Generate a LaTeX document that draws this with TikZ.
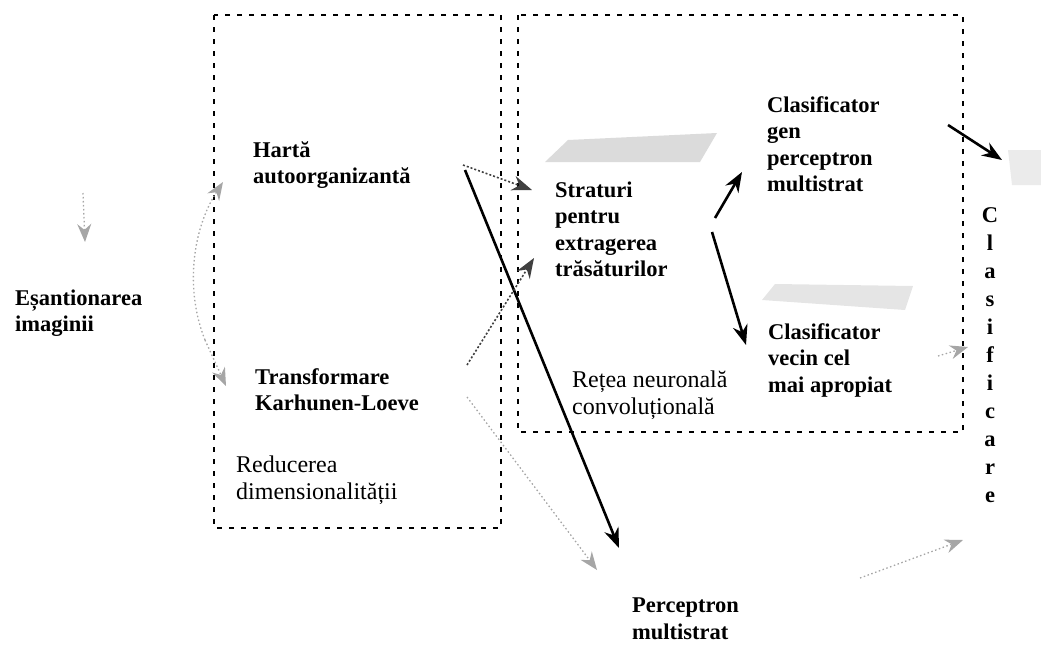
\documentclass[tikz,border=0pt]{standalone}
\usepackage{fontspec}
\setmainfont{Liberation Serif}
\usetikzlibrary{arrows.meta}
\begin{document}
\begin{tikzpicture}[x=1pt,y=-1pt,
  lbl/.style={anchor=base west, align=left, inner sep=0pt,
    font=\bfseries\fontsize{22.5}{26.5}\selectfont},
  grp/.style={anchor=base west, align=left, inner sep=0pt,
    font=\fontsize{24}{27}\selectfont},
  groupbox/.style={draw, line width=1.8pt, dash pattern=on 5pt off 7pt},
  strong/.style={draw, line width=2.6pt, -{Stealth[length=20pt,width=15pt]}},
  medium/.style={draw=black!75, line width=1.6pt, dash pattern=on 2pt off 2pt,
    -{Stealth[length=20pt,width=15pt]}},
  faint/.style={draw=black!35, line width=1.3pt, dash pattern=on 1.5pt off 2.5pt,
    -{Stealth[length=18pt,width=14pt]}},
  smudge/.style={fill=black!14, draw=none},
]
\useasboundingbox (0,0) rectangle (1041,645);

% grey smudges behind the upper labels
\fill[smudge] (545,162) -- (568,140) -- (717,133) -- (700,162) -- cycle;
\fill[smudge, fill=black!10] (762,300) -- (775,284) -- (913,286) -- (905,310) -- cycle;
\fill[smudge, fill=black!8] (1008,150) -- (1041,150) -- (1041,185) -- (1012,185) -- cycle;

% group frames
\draw[groupbox] (214,15) rectangle (501,528);
\draw[groupbox] (518,15) rectangle (963,432);

% labels (each node is anchored at the baseline of its last line)
\node[lbl] (esant) at (15,331.5) {Eșantionarea\\imaginii};
\node[lbl] (harta) at (253,183.5) {Hartă\\autoorganizantă};
\node[lbl] (transf) at (255,410.5) {Transformare\\Karhunen-Loeve};
\node[grp] (reduc) at (236,499) {Reducerea\\dimensionalității};
\node[lbl] (strat) at (555,276.5) {Straturi\\pentru\\extragerea\\trăsăturilor};
\node[lbl] (clsgen) at (767,191.5) {Clasificator\\gen\\perceptron\\multistrat};
\node[lbl] (clsvec) at (768,392) {Clasificator\\vecin cel\\mai apropiat};
\node[grp] (retea) at (572,414) {Rețea neuronală\\convoluțională};
\node[lbl] (perc) at (632,639) {Perceptron\\multistrat};
\node[anchor=base, align=center, inner sep=0pt,
  font=\bfseries\fontsize{22.5}{28}\selectfont] (clasif) at (990,502)
  {C\\l\\a\\s\\i\\f\\i\\c\\a\\r\\e};

% connector end points
\coordinate (in0) at (83,193);
\coordinate (esIn) at (85,242);
\coordinate (esOut) at (205,340);
\coordinate (hartaIn) at (223,182);
\coordinate (transfIn) at (226,386);
\coordinate (hartaOut) at (463,165);
\coordinate (hartaOut2) at (465,170);
\coordinate (stratIn) at (532,190);
\coordinate (stratIn2) at (534,258);
\coordinate (transfOut) at (467,365);
\coordinate (transfOut2) at (467,397);
\coordinate (percIn) at (619,548);
\coordinate (percIn2) at (597,570);
\coordinate (stratOut) at (715,218);
\coordinate (stratOut2) at (712,232);
\coordinate (clsgenIn) at (742,172);
\coordinate (clsvecIn) at (746,345);
\coordinate (clsgenOut) at (948,125);
\coordinate (clasifIn) at (1002,160);
\coordinate (clsvecOut) at (938,356);
\coordinate (clasifIn2) at (968,347);
\coordinate (percOut) at (860,578);
\coordinate (clasifIn3) at (963,540);

% connectors
\draw[faint] (in0) -- (esIn);
\draw[faint] (esOut) .. controls (185,290) and (192,230) .. (hartaIn);
\draw[faint] (esOut) -- (transfIn);
\draw[medium] (hartaOut) -- (stratIn);
\draw[strong] (hartaOut2) -- (percIn);
\draw[medium] (transfOut) -- (stratIn2);
\draw[faint] (transfOut2) -- (percIn2);
\draw[strong] (stratOut) -- (clsgenIn);
\draw[strong] (stratOut2) -- (clsvecIn);
\draw[strong] (clsgenOut) -- (clasifIn);
\draw[faint] (clsvecOut) -- (clasifIn2);
\draw[faint] (percOut) -- (clasifIn3);
\end{tikzpicture}
\end{document}
